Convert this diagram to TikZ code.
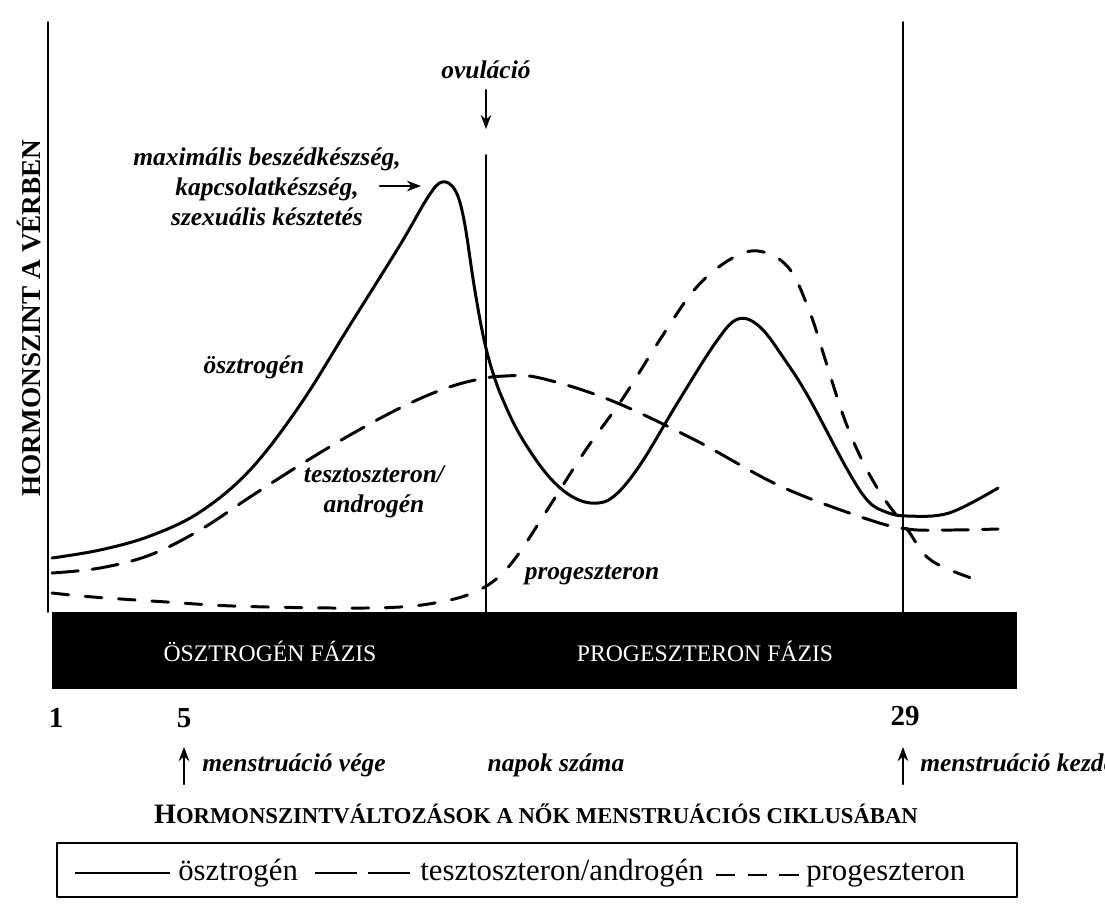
\documentclass[tikz,border=0pt]{standalone}
\usepackage{fontspec}
\setmainfont{Liberation Serif}
\usetikzlibrary{arrows.meta,calc}

\tikzset{
  estro/.style={line width=1.7pt},
  andro/.style={line width=1.7pt, dash pattern=on 15pt off 8pt},
  proge/.style={line width=1.7pt, dash pattern=on 9.5pt off 9.5pt},
  vline/.style={line width=0.9pt},
  arr/.style={line width=1.2pt, -{Stealth[length=8pt,width=6pt]}},
  lbl/.style={font=\fontsize{14.5}{17}\selectfont\bfseries\itshape, inner sep=0pt},
  phase/.style={font=\fontsize{13.5}{16}\selectfont, text=white, inner sep=0pt},
  day/.style={font=\fontsize{16.5}{20}\selectfont\bfseries, inner sep=0pt},
  leg/.style={font=\fontsize{17.5}{20}\selectfont, inner sep=0pt, anchor=base west},
}

\begin{document}
\begin{tikzpicture}[x=0.02cm, y=-0.02cm, line join=round, line cap=round]
	\useasboundingbox (0,0) rectangle (1105,917);
	% axis and day lines
	\draw[vline] (48,22) -- (48,612);
	\draw[vline] (486,155) -- (486,612);
	\draw[vline] (903,22) -- (903,612);
	\node[rotate=90, inner sep=0pt, font=\fontsize{15.5}{18}\selectfont\bfseries] (yaxis) at (29,318) {HORMONSZINT A VÉRBEN};
	% phase bar
	\fill (52,612) rectangle (1017,689);
	\node[phase] (ephase) at (270,651) {ÖSZTROGÉN FÁZIS};
	\node[phase] (pphase) at (705,651) {PROGESZTERON FÁZIS};
	% hormone curves
	\draw[estro] plot[smooth, tension=0.6] coordinates {(52,558) (100,550) (150,536) (200,512) (250,470) (300,405) (350,325) (400,245) (428,197) (442,182) (455,190) (464,220) (474,285) (483,335) (492,370) (503,400) (520,435) (545,472) (568,494) (591,503) (613,497) (640,465) (678,402) (716,342) (738,319) (760,327) (785,360) (809,398) (847,469) (868,501) (886,512) (907,516) (949,513) (998,488)};
	\draw[andro] plot[smooth, tension=0.6] coordinates {(52,573) (100,568) (150,555) (200,530) (250,497) (300,465) (350,435) (400,408) (441,390) (475,380) (505,376) (540,378) (610,400) (695,440) (780,486) (864,518) (907,529) (950,530) (998,529)};
	\draw[proge] plot[smooth, tension=0.6] coordinates {(52,593) (93,597) (167,602) (233,606) (333,608) (400,607) (440,602) (470,594) (495,580) (517,556) (551,504) (585,451) (623,398) (661,338) (695,289) (729,260) (758,251) (788,267) (809,310) (826,362) (843,415) (860,456) (881,494) (907,529) (932,561) (983,582)};
	% labels in the plot
	\node[lbl, anchor=base] (ovu) at (486,78) {ovuláció};
	\coordinate (ovutop) at (486,90);
	\coordinate (ovutip) at (486,129);
	\draw[arr] (ovutop) -- (ovutip);
	\node[lbl, align=center] (maxi) at (267,187) {maximális beszédkészség,\\kapcsolatkészség,\\szexuális késztetés};
	\coordinate (maxfrom) at (380,186);
	\coordinate (maxpeak) at (421,186);
	\draw[arr] (maxfrom) -- (maxpeak);
	\node[lbl] (oszt) at (254,367) {ösztrogén};
	\node[lbl, align=center] (teszt) at (374,492) {tesztoszteron/\\androgén};
	\node[lbl] (proglbl) at (592,575) {progeszteron};
	% days
	\node[day] (d1) at (56,718) {1};
	\node[day] (d5) at (184,718) {5};
	\node[day] (d29) at (905,716) {29};
	\node[lbl, anchor=base west] (mvege) at (202,771) {menstruáció vége};
	\node[lbl, anchor=base] (napok) at (556,771) {napok száma};
	\node[lbl, anchor=base west] (mkezd) at (920,771) {menstruáció kezdete};
	\draw[arr] ($(d5)+(0,66)$) -- ($(d5)+(0,29)$);
	\draw[arr] ($(d29)+(-2,68)$) -- ($(d29)+(-2,31)$);
	% title and legend
	\node[inner sep=0pt, font=\fontsize{12.9}{15}\selectfont\bfseries] (title) at (536,814) {{\fontsize{16}{15}\selectfont H}ORMONSZINTVÁLTOZÁSOK A NŐK MENSTRUÁCIÓS CIKLUSÁBAN};
	\draw[line width=1.3pt] (57,843) rectangle (1017,897);
	\node[leg] (lE) at (178,880) {ösztrogén};
	\node[leg] (lT) at (420,880) {tesztoszteron/androgén};
	\node[leg] (lP) at (806,880) {progeszteron};
	\draw[line width=1.2pt, line cap=butt] ($(lE.west)+(-103,0)$) -- ($(lE.west)+(-8,0)$);
	\draw[line width=1.2pt, line cap=butt, dash pattern=on 24pt off 6pt] ($(lT.west)+(-105,0)$) -- ($(lT.west)+(-10,0)$);
	\draw[line width=1.2pt, line cap=butt, dash pattern=on 11pt off 7pt] ($(lP.west)+(-90,0)$) -- ($(lP.west)+(-6,0)$);
\end{tikzpicture}
\end{document}
